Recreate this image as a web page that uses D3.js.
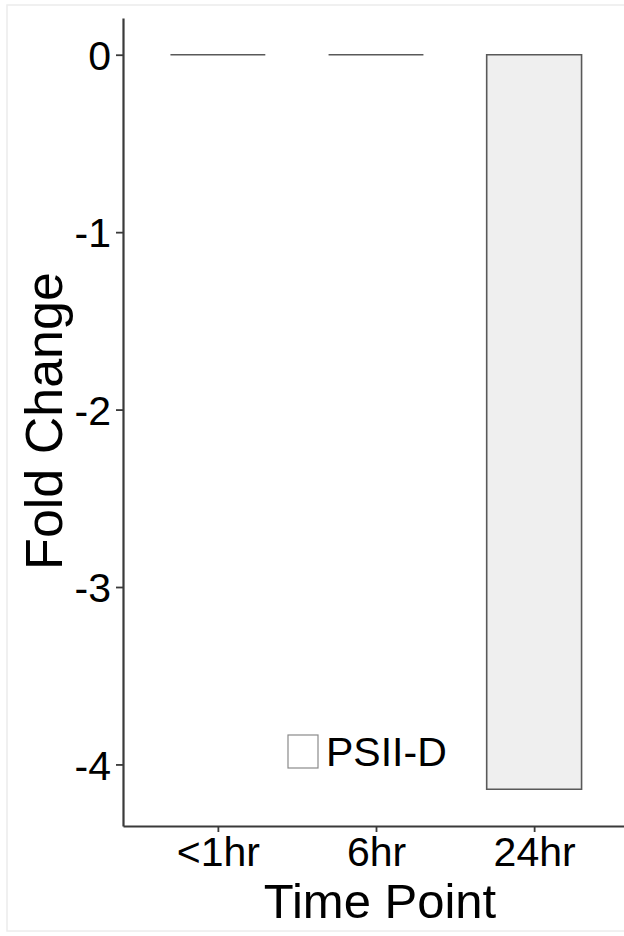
<!DOCTYPE html>
<html>
<head>
<meta charset="utf-8">
<script src="https://cdn.jsdelivr.net/npm/d3@7"></script>
<style>
  html, body { margin: 0; padding: 0; background: #fff; }
  svg { display: block; }
  text { font-family: "Liberation Sans", Arial, sans-serif; fill: #000; }
</style>
</head>
<body>
<svg id="chart" width="624" height="936"></svg>
<script>
const categories = ["<1hr", "6hr", "24hr"];
const values = [0, 0, -4.14];
const yTicks = [0, -1, -2, -3, -4];
const seriesName = "PSII-D";

const svg = d3.select("#chart");

// faint outer frame
svg.append("rect")
  .attr("x", 7).attr("y", 5).attr("width", 640).attr("height", 926)
  .attr("fill", "none").attr("stroke", "#ececec").attr("stroke-width", 1.5);

const x = d3.scalePoint().domain(categories).range([123, 629]).padding(0.6);
const y = d3.scaleLinear().domain([-4.347, 0.207]).range([826, 18]);
const barW = x.step() * 0.6;

// bars (drawn as paths so zero-height bars still show as a line)
svg.append("g").selectAll("path")
  .data(categories.map((c, i) => ({ c, v: values[i] })))
  .join("path")
  .attr("d", d => {
    const x0 = x(d.c) - barW / 2, x1 = x(d.c) + barW / 2;
    const y0 = y(0), y1 = y(d.v);
    return `M${x0},${y0}H${x1}V${y1}H${x0}Z`;
  })
  .attr("fill", "#efefef")
  .attr("stroke", "#595959")
  .attr("stroke-width", 1.6);

// y axis
const yAxis = svg.append("g")
  .attr("transform", "translate(123,0)")
  .call(d3.axisLeft(y).tickValues(yTicks).tickFormat(d => String(d)).tickSize(7).tickSizeOuter(0).tickPadding(5));
yAxis.select(".domain").attr("stroke", "#3a3a3a").attr("stroke-width", 2.2);
yAxis.selectAll(".tick line").attr("stroke", "#3a3a3a").attr("stroke-width", 1.8);
yAxis.selectAll(".tick text")
  .attr("font-size", 41).attr("font-family", "Liberation Sans, Arial, sans-serif").attr("fill", "#000")
  .attr("dy", "0.36em");

// x axis
const xAxis = svg.append("g")
  .attr("transform", "translate(0,826)")
  .call(d3.axisBottom(x).tickSize(6).tickSizeOuter(0).tickPadding(3));
xAxis.select(".domain").attr("stroke", "#3a3a3a").attr("stroke-width", 2.2);
xAxis.selectAll(".tick line").attr("stroke", "#3a3a3a").attr("stroke-width", 1.8);
xAxis.selectAll(".tick text")
  .attr("font-size", 41).attr("font-family", "Liberation Sans, Arial, sans-serif").attr("fill", "#000")
  .attr("dy", "0.76em");

// axis titles
svg.append("text")
  .attr("x", 380).attr("y", 918)
  .attr("text-anchor", "middle")
  .attr("font-size", 49)
  .text("Time Point");

svg.append("text")
  .attr("transform", "translate(62,421) rotate(-90)")
  .attr("text-anchor", "middle")
  .attr("font-size", 52)
  .text("Fold Change");

// legend
const lg = svg.append("g").attr("transform", "translate(288,735)");
lg.append("rect").attr("width", 30).attr("height", 33)
  .attr("fill", "#fff").attr("stroke", "#8a8a8a").attr("stroke-width", 1.2);
lg.append("text").attr("x", 38).attr("y", 16.5).attr("dy", "0.36em")
  .attr("font-size", 41).text(seriesName);
</script>
</body>
</html>
